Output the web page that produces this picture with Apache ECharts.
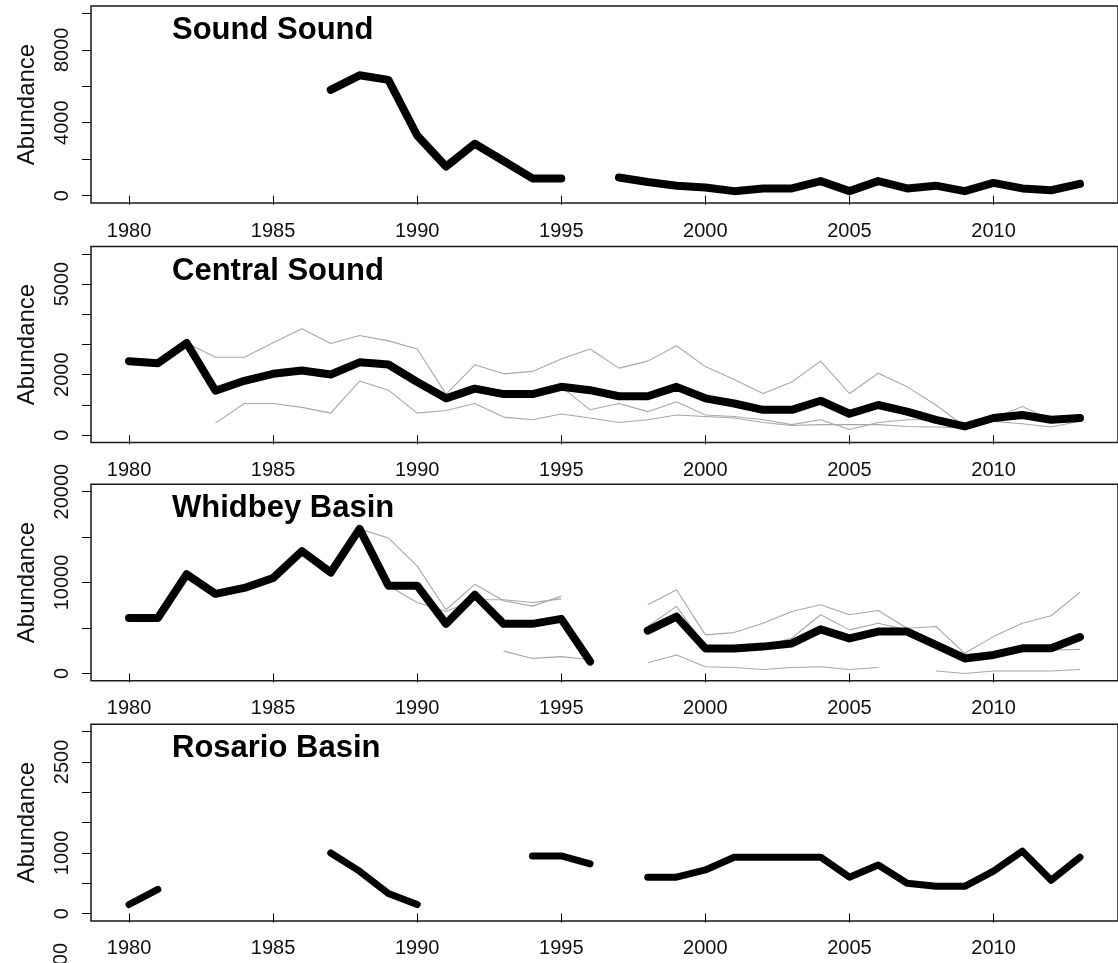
<!DOCTYPE html>
<html>
<head>
<meta charset="utf-8">
<title>Abundance by basin</title>
<script src="https://cdn.jsdelivr.net/npm/echarts@6/dist/echarts.min.js"></script>
<style>
  html, body { margin: 0; padding: 0; background: #fff; }
  #chart { width: 1118px; height: 963px; }
</style>
</head>
<body>
<div id="chart"></div>
<script>
// ---- data ----------------------------------------------------------------
const years = [1980, 1981, 1982, 1983, 1984, 1985, 1986, 1987, 1988, 1989,
               1990, 1991, 1992, 1993, 1994, 1995, 1996, 1997, 1998, 1999,
               2000, 2001, 2002, 2003, 2004, 2005, 2006, 2007, 2008, 2009,
               2010, 2011, 2012, 2013];

const yearTicks = [1980, 1985, 1990, 1995, 2000, 2005, 2010];

const panelTitles = ['Sound Sound', 'Central Sound', 'Whidbey Basin', 'Rosario Basin'];

// Sound Sound
const soundTotal = [null, null, null, null, null, null, null, 5800, 6600, 6350,
                    3300, 1600, 2850, 1900, 950, 950, null, 1000, 750, 550,
                    450, 250, 400, 400, 800, 250, 800, 400, 550, 250,
                    700, 400, 300, 650];
const soundTicks = [0, 2000, 4000, 6000, 8000, 10000];
const soundLabels = [0, 4000, 8000];

// Central Sound
const centralTotal = [2450, 2380, 3050, 1470, 1800, 2030, 2140, 2010, 2410, 2340,
                      1760, 1220, 1540, 1360, 1360, 1600, 1490, 1290, 1290, 1600,
                      1220, 1050, 840, 840, 1140, 710, 1000, 780, 510, 290,
                      570, 670, 510, 570];
const centralSiteA = [null, null, 3050, 2580, 2580, 3060, 3520, 3030, 3300, 3120,
                      2850, 1360, 2330, 2030, 2110, 2520, 2850, 2220, 2450, 2960,
                      2270, 1840, 1380, 1760, 2450, 1380, 2050, 1600, 1000, 290,
                      560, 950, 510, 620];
const centralSiteB = [null, null, null, 400, 1050, 1050, 920, 730, 1790, 1490,
                      730, 820, 1050, 600, 510, 700, 570, 420, 510, 670,
                      620, 570, 420, 320, 350, 350, 350, 290, 270, 240,
                      460, 380, 270, 460];
const centralSiteC = [null, null, null, null, null, null, null, null, null, null,
                      null, null, null, null, null, 1600, 840, 1050, 780, 1110,
                      670, 620, 510, 350, 510, 190, 420, 510, 510, 290,
                      570, 620, 450, 570];
const centralTicks = [0, 1000, 2000, 3000, 4000, 5000, 6000];
const centralLabels = [0, 2000, 5000];

// Whidbey Basin
const whidbeyTotal = [6100, 6100, 10900, 8750, 9400, 10500, 13450, 11100, 15900, 9650,
                      9650, 5450, 8650, 5450, 5450, 6000, 1300, null, 4700, 6250,
                      2750, 2750, 2950, 3300, 4850, 3850, 4600, 4600, 3130, 1650,
                      2030, 2760, 2760, 4000];
const whidbeySiteA = [null, null, null, null, null, null, null, null, 15900, 14900,
                      11800, 7000, 9800, 8000, 7400, 8500, null, null, null, null,
                      null, null, null, null, null, null, null, null, null, null,
                      null, null, null, null];
const whidbeySiteB = [null, null, null, null, null, null, null, null, null, 9650,
                      7800, 6800, 8100, 8100, 7800, 8200, null, null, null, null,
                      null, null, null, null, null, null, null, null, null, null,
                      null, null, null, null];
const whidbeySiteC = [null, null, null, null, null, null, null, null, null, null,
                      null, null, null, 2450, 1650, 1850, 1500, null, null, null,
                      null, null, null, null, null, null, null, null, null, null,
                      null, null, null, null];
const whidbeySiteD = [null, null, null, null, null, null, null, null, null, null,
                      null, null, null, null, null, null, null, null, 7550, 9200,
                      4240, 4490, 5520, 6810, 7550, 6450, 6920, 4970, 5160, 2210,
                      4050, 5520, 6340, 8910];
const whidbeySiteE = [null, null, null, null, null, null, null, null, null, null,
                      null, null, null, null, null, null, null, null, 5160, 7370,
                      2950, 2750, 2950, 3900, 6450, 4790, 5520, 4790, 3500, 2140,
                      2200, 2500, 2580, 2650];
const whidbeySiteF = [null, null, null, null, null, null, null, null, null, null,
                      null, null, null, null, null, null, null, null, 1180, 2030,
                      740, 660, 440, 660, 740, 440, 660, null, null, null,
                      null, null, null, null];
const whidbeySiteG = [null, null, null, null, null, null, null, null, null, null,
                      null, null, null, null, null, null, null, null, null, null,
                      null, null, null, null, null, null, null, null, 260, 0,
                      260, 260, 260, 440];
const whidbeyTicks = [0, 5000, 10000, 15000, 20000];
const whidbeyLabels = [0, 10000, 20000];

// Rosario Basin
const rosarioTotal = [150, 400, null, null, null, null, null, 1000, 700, 330,
                      150, null, null, null, 950, 950, 820, null, 600, 600,
                      720, 930, 930, 930, 930, 600, 800, 500, 450, 450,
                      700, 1030, 550, 930];
const rosarioTicks = [0, 500, 1000, 1500, 2000, 2500, 3000];
const rosarioLabels = [0, 1000, 2500];

// ---- layout --------------------------------------------------------------
const FONT = "'Liberation Sans', Arial, Helvetica, sans-serif";
const panels = [
  { title: panelTitles[0], total: soundTotal, sites: [], top: 6, height: 197,
    yMax: 10000, ticks: soundTicks, labels: soundLabels, width: 8 },
  { title: panelTitles[1], total: centralTotal,
    sites: [centralSiteA, centralSiteB, centralSiteC], top: 246.5, height: 196,
    yMax: 6000, ticks: centralTicks, labels: centralLabels, width: 8 },
  { title: panelTitles[2], total: whidbeyTotal,
    sites: [whidbeySiteA, whidbeySiteB, whidbeySiteC, whidbeySiteD,
            whidbeySiteE, whidbeySiteF, whidbeySiteG], top: 484.3, height: 196.4,
    yMax: 20000, ticks: whidbeyTicks, labels: whidbeyLabels, width: 8 },
  { title: panelTitles[3], total: rosarioTotal, sites: [], top: 724.3, height: 196.6,
    yMax: 3000, ticks: rosarioTicks, labels: rosarioLabels, width: 7 }
];

// R-style 4% axis padding
const xMin = 1980 - 0.04 * (2013 - 1980);
const xMax = 2013 + 0.04 * (2013 - 1980);
const plotLeft = 91;
const plotWidth = 1029;

const toPairs = vals => years.map((yr, i) => [yr, vals[i] == null ? null : vals[i]]);

const grid = [], xAxis = [], yAxis = [], series = [], title = [];

panels.forEach((p, k) => {
  grid.push({
    left: plotLeft, top: p.top, width: plotWidth, height: p.height,
    show: true, borderColor: '#1a1a1a', borderWidth: 1.5,
    backgroundColor: 'transparent', containLabel: false
  });
  xAxis.push({
    type: 'value', gridIndex: k, min: xMin, max: xMax,
    axisLine: { show: false },
    splitLine: { show: false },
    axisTick: { show: true, customValues: yearTicks, length: 9, inside: false,
                lineStyle: { color: '#000', width: 1 } },
    axisLabel: { show: true, customValues: yearTicks, margin: 18,
                 color: '#111', fontSize: 20, fontFamily: FONT,
                 formatter: v => String(Math.round(v)) }
  });
  yAxis.push({
    type: 'value', gridIndex: k, min: -0.04 * p.yMax, max: 1.04 * p.yMax,
    name: 'Abundance', nameLocation: 'middle', nameRotate: 90, nameGap: 52,
    nameTextStyle: { color: '#111', fontSize: 24, fontFamily: FONT },
    axisLine: { show: false },
    splitLine: { show: false },
    axisTick: { show: true, customValues: p.ticks, length: 9, inside: false,
                lineStyle: { color: '#000', width: 1 } },
    axisLabel: { show: true, customValues: p.labels, rotate: 90, margin: 19,
                 color: '#111', fontSize: 20, fontFamily: FONT,
                 formatter: v => String(Math.round(v)) }
  });
  title.push({
    text: p.title, left: 172, top: p.top + 9, padding: 0,
    textStyle: { color: '#000', fontSize: 31, fontWeight: 'bold', fontFamily: FONT }
  });
  // individual sites in grey underneath the basin total
  p.sites.forEach(s => {
    series.push({
      type: 'line', xAxisIndex: k, yAxisIndex: k, data: toPairs(s),
      showSymbol: false, symbol: 'none', connectNulls: false, silent: true,
      lineStyle: { color: '#a8a8a8', width: 1.1 }, z: 2
    });
  });
  series.push({
    type: 'line', xAxisIndex: k, yAxisIndex: k, data: toPairs(p.total),
    showSymbol: false, symbol: 'none', connectNulls: false, silent: true,
    lineStyle: { color: '#000', width: p.width, cap: 'round', join: 'round' }, z: 3
  });
});

const chart = echarts.init(document.getElementById('chart'), null, { renderer: 'canvas' });
chart.setOption({
  animation: false,
  backgroundColor: '#fff',
  title, grid, xAxis, yAxis, series,
  // top end of the next panel's axis label, cut off by the page edge
  graphic: [{
    type: 'text', x: 61, y: 943, rotation: Math.PI / 2,
    style: { text: '2000', fill: '#111', font: '20px ' + FONT,
             align: 'right', verticalAlign: 'middle' }
  }]
});
</script>
</body>
</html>
